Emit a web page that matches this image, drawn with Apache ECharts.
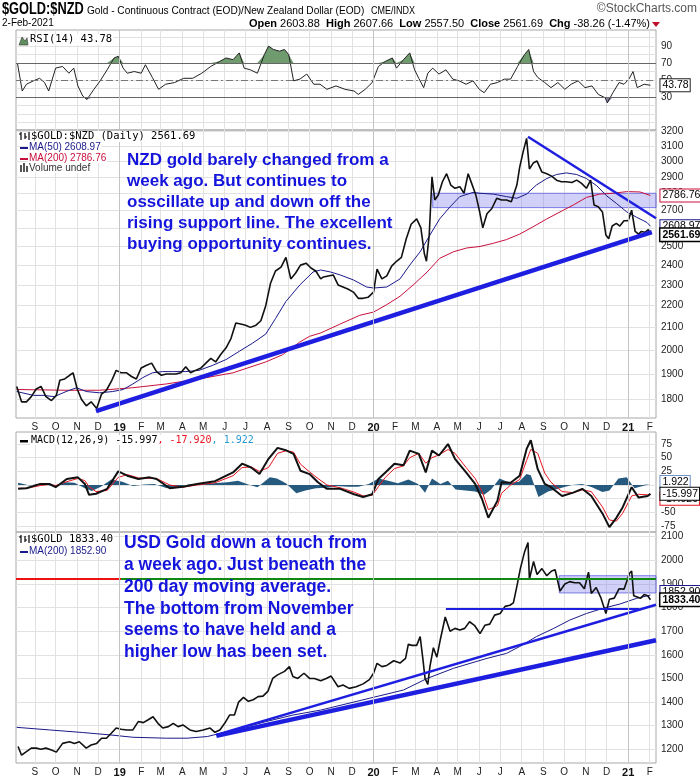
<!DOCTYPE html>
<html><head><meta charset="utf-8">
<script src="https://cdn.jsdelivr.net/npm/echarts@6/dist/echarts.min.js"></script>
<style>html,body{margin:0;padding:0;background:#fff}#c{width:700px;height:780px}</style>
</head><body><div id="c"></div>
<script>
// ---------- axis ticks / labels ----------
const monthStarts = ['2018-09-01','2018-10-01','2018-11-01','2018-12-01','2019-01-01','2019-02-01','2019-03-01','2019-04-01','2019-05-01','2019-06-01','2019-07-01','2019-08-01','2019-09-01','2019-10-01','2019-11-01','2019-12-01','2020-01-01','2020-02-01','2020-03-01','2020-04-01','2020-05-01','2020-06-01','2020-07-01','2020-08-01','2020-09-01','2020-10-01','2020-11-01','2020-12-01','2021-01-01','2021-02-01'];
const yearStarts = ['2019-01-01','2020-01-01','2021-01-01'];
const xRange = ['2018-08-05','2021-02-10'];
const rsiTicks = [0,10,20,30,40,50,60,70,80,90,100];
const rsiLabels = [30,50,70,90];
const rsiLevels = [70,50,30];
const nzdTicks = [1800,1900,2000,2100,2200,2300,2400,2500,2600,2700,2800,2900,3000,3100,3200];
const macdTicks = [-75,-50,-25,0,25,50,75];
const usdTicks = [1200,1300,1400,1500,1600,1700,1800,1900,2000,2100];

// ---------- NZD gold panel ----------
const nzdClose = [['2018-08-06',1850],['2018-08-13',1790],['2018-08-20',1790],['2018-08-27',1810],['2018-09-03',1840],['2018-09-10',1850],['2018-09-17',1810],['2018-09-25',1795],['2018-10-02',1815],['2018-10-07',1875],['2018-10-14',1880],['2018-10-21',1895],['2018-10-26',1905],['2018-11-01',1840],['2018-11-07',1800],['2018-11-14',1775],['2018-11-21',1790],['2018-11-29',1765],['2018-12-06',1820],['2018-12-13',1835],['2018-12-20',1870],['2018-12-27',1915],['2019-01-03',1905],['2019-01-11',1905],['2019-01-18',1890],['2019-01-25',1880],['2019-02-01',1925],['2019-02-08',1935],['2019-02-16',1945],['2019-02-23',1910],['2019-03-02',1895],['2019-03-09',1900],['2019-03-16',1900],['2019-03-23',1900],['2019-03-30',1905],['2019-04-06',1930],['2019-04-13',1905],['2019-04-20',1915],['2019-04-28',1925],['2019-05-05',1945],['2019-05-12',1965],['2019-05-19',1950],['2019-05-26',1980],['2019-06-03',2010],['2019-06-10',2050],['2019-06-17',2120],['2019-06-24',2115],['2019-07-01',2110],['2019-07-08',2100],['2019-07-16',2110],['2019-07-23',2130],['2019-07-30',2200],['2019-08-06',2310],['2019-08-13',2370],['2019-08-21',2390],['2019-08-28',2440],['2019-09-04',2330],['2019-09-11',2360],['2019-09-18',2400],['2019-09-26',2410],['2019-10-03',2385],['2019-10-10',2370],['2019-10-17',2330],['2019-10-21',2340],['2019-10-28',2345],['2019-11-04',2350],['2019-11-11',2300],['2019-11-18',2290],['2019-11-25',2280],['2019-12-03',2265],['2019-12-10',2235],['2019-12-17',2235],['2019-12-24',2240],['2020-01-01',2265],['2020-01-06',2380],['2020-01-13',2330],['2020-01-20',2345],['2020-01-27',2395],['2020-02-03',2420],['2020-02-10',2440],['2020-02-17',2540],['2020-02-24',2620],['2020-03-03',2650],['2020-03-09',2600],['2020-03-14',2460],['2020-03-17',2420],['2020-03-21',2560],['2020-03-25',2900],['2020-03-29',2760],['2020-04-03',2790],['2020-04-09',2870],['2020-04-15',2920],['2020-04-21',2850],['2020-04-27',2830],['2020-05-04',2840],['2020-05-10',2800],['2020-05-16',2920],['2020-05-21',2860],['2020-05-27',2790],['2020-06-01',2700],['2020-06-06',2600],['2020-06-12',2680],['2020-06-19',2710],['2020-06-26',2770],['2020-07-03',2760],['2020-07-10',2760],['2020-07-17',2750],['2020-07-25',2850],['2020-07-29',2960],['2020-08-03',3060],['2020-08-08',3150],['2020-08-12',2950],['2020-08-18',2990],['2020-08-23',3000],['2020-08-30',2930],['2020-09-06',2920],['2020-09-13',2905],['2020-09-20',2880],['2020-09-27',2870],['2020-10-04',2870],['2020-10-12',2865],['2020-10-19',2880],['2020-10-26',2860],['2020-11-02',2830],['2020-11-08',2880],['2020-11-13',2730],['2020-11-19',2720],['2020-11-25',2690],['2020-11-30',2560],['2020-12-04',2540],['2020-12-09',2610],['2020-12-15',2625],['2020-12-20',2610],['2020-12-26',2640],['2021-01-01',2640],['2021-01-06',2700],['2021-01-11',2580],['2021-01-16',2565],['2021-01-20',2580],['2021-01-25',2575],['2021-01-30',2590],['2021-02-02',2561.69]];
const nzdMA50 = [['2018-08-06',1830],['2018-08-30',1815],['2018-09-13',1815],['2018-09-29',1810],['2018-10-16',1830],['2018-10-31',1845],['2018-11-14',1830],['2018-12-03',1825],['2018-12-22',1830],['2019-01-06',1838],['2019-01-20',1860],['2019-02-03',1885],['2019-02-17',1905],['2019-03-04',1910],['2019-03-18',1910],['2019-04-06',1910],['2019-04-25',1915],['2019-05-14',1935],['2019-06-03',1960],['2019-06-22',1995],['2019-07-11',2030],['2019-07-30',2070],['2019-08-13',2140],['2019-08-28',2220],['2019-09-17',2300],['2019-10-06',2365],['2019-10-17',2375],['2019-10-31',2365],['2019-11-14',2350],['2019-12-03',2325],['2019-12-22',2290],['2020-01-01',2285],['2020-01-20',2290],['2020-02-08',2330],['2020-02-22',2400],['2020-03-08',2470],['2020-03-22',2560],['2020-04-05',2650],['2020-04-20',2720],['2020-05-04',2780],['2020-05-23',2805],['2020-06-02',2800],['2020-06-21',2795],['2020-07-10',2780],['2020-07-25',2770],['2020-08-08',2795],['2020-08-22',2850],['2020-09-06',2890],['2020-09-20',2915],['2020-10-04',2925],['2020-10-19',2915],['2020-11-02',2890],['2020-11-17',2845],['2020-12-01',2785],['2020-12-15',2740],['2020-12-30',2690],['2021-01-13',2660],['2021-01-28',2630],['2021-02-02',2608.97]];
const nzdMA200 = [['2018-08-06',1838],['2018-10-16',1835],['2018-12-03',1835],['2019-01-20',1845],['2019-03-09',1860],['2019-04-25',1880],['2019-06-13',1905],['2019-07-30',1950],['2019-08-23',1980],['2019-09-17',2035],['2019-10-01',2060],['2019-10-17',2075],['2019-11-14',2115],['2019-12-12',2155],['2020-01-01',2170],['2020-01-20',2205],['2020-02-08',2245],['2020-02-27',2300],['2020-03-18',2365],['2020-04-05',2435],['2020-04-25',2470],['2020-05-14',2490],['2020-06-02',2498],['2020-06-21',2515],['2020-07-10',2535],['2020-07-29',2565],['2020-08-17',2605],['2020-09-06',2650],['2020-09-25',2690],['2020-10-14',2730],['2020-11-02',2775],['2020-11-21',2795],['2020-12-10',2800],['2020-12-30',2810],['2021-01-18',2808],['2021-02-02',2786.76]];
const nzdSupport = [['2018-11-28',1755],['2021-02-04',2576]];
const nzdResistance = [['2020-08-10',3161],['2021-02-10',2654]];
const nzdBand = [['2020-03-26',2800],['2021-02-10',2715]];

// ---------- RSI(14) ----------
const rsi14 = [['2018-08-07',70],['2018-08-14',37],['2018-08-20',45],['2018-08-30',49],['2018-09-08',52],['2018-09-15',47],['2018-09-21',37],['2018-10-01',64],['2018-10-11',66],['2018-10-20',58],['2018-10-27',64],['2018-11-02',43],['2018-11-09',31],['2018-11-15',27],['2018-11-25',39],['2018-12-04',49],['2018-12-14',62],['2018-12-24',76],['2018-12-30',78],['2019-01-06',64],['2019-01-12',58],['2019-01-22',60],['2019-02-01',58],['2019-02-07',68],['2019-02-17',53],['2019-02-26',39],['2019-03-08',45],['2019-03-21',47],['2019-04-03',52],['2019-04-16',52],['2019-04-29',58],['2019-05-12',66],['2019-05-25',72],['2019-06-03',76],['2019-06-13',74],['2019-06-22',82],['2019-06-29',64],['2019-07-08',62],['2019-07-18',58],['2019-07-28',80],['2019-08-03',90],['2019-08-10',86],['2019-08-19',84],['2019-08-26',86],['2019-09-01',80],['2019-09-08',49],['2019-09-17',51],['2019-09-27',57],['2019-10-07',45],['2019-10-16',45],['2019-10-26',39],['2019-11-08',43],['2019-11-21',39],['2019-12-04',37],['2019-12-10',33],['2019-12-20',39],['2019-12-30',47],['2020-01-08',66],['2020-01-18',72],['2020-01-28',76],['2020-02-03',64],['2020-02-13',74],['2020-02-22',82],['2020-02-29',62],['2020-03-06',52],['2020-03-13',41],['2020-03-19',58],['2020-03-26',64],['2020-04-04',57],['2020-04-14',62],['2020-04-24',51],['2020-05-03',49],['2020-05-13',45],['2020-05-23',49],['2020-06-01',39],['2020-06-08',35],['2020-06-17',45],['2020-06-27',47],['2020-07-07',51],['2020-07-16',51],['2020-07-26',66],['2020-08-05',80],['2020-08-11',86],['2020-08-18',60],['2020-08-24',53],['2020-09-03',47],['2020-09-12',41],['2020-09-22',47],['2020-10-02',39],['2020-10-11',45],['2020-10-21',49],['2020-10-31',41],['2020-11-10',43],['2020-11-19',33],['2020-11-29',29],['2020-12-02',23],['2020-12-10',35],['2020-12-19',47],['2020-12-26',45],['2021-01-02',51],['2021-01-08',60],['2021-01-14',41],['2021-01-24',45],['2021-02-02',43.78]];

// ---------- MACD(12,26,9) ----------
const macdLine = [['2018-08-08',-7],['2018-08-20',-6],['2018-09-09',2],['2018-09-22',2],['2018-10-01',-4],['2018-10-17',11],['2018-11-02',14],['2018-11-12',2],['2018-11-18',-18],['2018-11-28',-16],['2018-12-14',-7],['2018-12-30',25],['2019-01-12',17],['2019-01-28',11],['2019-02-13',14],['2019-02-23',11],['2019-03-14',-6],['2019-04-02',-3],['2019-04-22',2],['2019-05-18',7],['2019-06-13',23],['2019-06-26',39],['2019-07-09',32],['2019-07-21',20],['2019-08-03',48],['2019-08-16',68],['2019-08-29',63],['2019-09-08',57],['2019-09-18',26],['2019-10-01',20],['2019-10-13',5],['2019-10-26',-7],['2019-11-14',-7],['2019-12-04',-17],['2019-12-17',-22],['2019-12-30',-17],['2020-01-08',11],['2020-01-18',23],['2020-01-31',39],['2020-02-13',36],['2020-02-22',63],['2020-03-06',57],['2020-03-16',23],['2020-03-25',63],['2020-04-04',54],['2020-04-17',75],['2020-04-27',48],['2020-05-13',23],['2020-05-26',2],['2020-06-05',-26],['2020-06-14',-60],['2020-06-27',-29],['2020-07-03',5],['2020-07-16',4],['2020-07-29',17],['2020-08-08',66],['2020-08-14',82],['2020-08-24',29],['2020-09-03',2],['2020-09-12',-4],['2020-09-28',-20],['2020-10-14',-14],['2020-10-27',-7],['2020-11-09',-20],['2020-11-25',-52],['2020-12-05',-77],['2020-12-15',-60],['2020-12-24',-41],['2021-01-06',-4],['2021-01-16',-23],['2021-01-29',-20],['2021-02-02',-15.997]];
const macdSignal = [['2018-08-08',-6],['2018-08-20',-6],['2018-09-09',-1],['2018-09-22',1],['2018-10-01',-1],['2018-10-17',6],['2018-11-02',12],['2018-11-12',8],['2018-11-18',-3],['2018-11-28',-12],['2018-12-14',-10],['2018-12-30',14],['2019-01-12',19],['2019-01-28',13],['2019-02-13',12],['2019-02-23',12],['2019-03-14',0],['2019-04-02',-4],['2019-04-22',0],['2019-05-18',4],['2019-06-13',17],['2019-06-26',32],['2019-07-09',33],['2019-07-21',25],['2019-08-03',32],['2019-08-16',58],['2019-08-29',63],['2019-09-08',60],['2019-09-18',38],['2019-10-01',24],['2019-10-13',12],['2019-10-26',0],['2019-11-14',-5],['2019-12-04',-13],['2019-12-17',-20],['2019-12-30',-19],['2020-01-08',-3],['2020-01-18',14],['2020-01-31',30],['2020-02-13',35],['2020-02-22',50],['2020-03-06',58],['2020-03-16',40],['2020-03-25',50],['2020-04-04',55],['2020-04-17',65],['2020-04-27',58],['2020-05-13',32],['2020-05-26',12],['2020-06-05',-12],['2020-06-14',-45],['2020-06-27',-38],['2020-07-03',-15],['2020-07-16',0],['2020-07-29',10],['2020-08-08',45],['2020-08-14',65],['2020-08-24',58],['2020-09-03',22],['2020-09-12',5],['2020-09-28',-12],['2020-10-14',-14],['2020-10-27',-9],['2020-11-09',-12],['2020-11-25',-40],['2020-12-05',-64],['2020-12-15',-66],['2020-12-24',-52],['2021-01-06',-20],['2021-01-16',-17],['2021-01-29',-18],['2021-02-02',-17.92]];
const macdHist = [['2018-08-08',4],['2018-08-25',-1],['2018-09-12',3],['2018-09-28',-3],['2018-10-15',5],['2018-10-28',4],['2018-11-12',-6],['2018-11-22',-11],['2018-12-05',-3],['2018-12-20',10],['2019-01-05',6],['2019-01-20',-2],['2019-02-05',1],['2019-02-20',2],['2019-03-10',-6],['2019-03-25',-4],['2019-04-10',1],['2019-04-28',2],['2019-05-15',3],['2019-06-05',5],['2019-06-20',8],['2019-07-05',1],['2019-07-18',-4],['2019-08-05',14],['2019-08-15',12],['2019-08-28',3],['2019-09-12',-15],['2019-09-25',-10],['2019-10-10',-6],['2019-10-25',-5],['2019-11-10',-2],['2019-11-25',-3],['2019-12-10',-3],['2019-12-25',2],['2020-01-08',12],['2020-01-22',8],['2020-02-05',3],['2020-02-20',10],['2020-03-05',2],['2020-03-15',-14],['2020-03-25',12],['2020-04-06',2],['2020-04-17',8],['2020-04-28',-8],['2020-05-12',-10],['2020-05-26',-12],['2020-06-08',-18],['2020-06-18',-8],['2020-06-30',12],['2020-07-15',4],['2020-07-28',6],['2020-08-08',20],['2020-08-14',18],['2020-08-25',-22],['2020-09-08',-12],['2020-09-25',-6],['2020-10-12',0],['2020-10-27',2],['2020-11-10',-4],['2020-11-25',-13],['2020-12-05',-10],['2020-12-18',12],['2020-12-30',14],['2021-01-10',-6],['2021-01-22',-2],['2021-02-02',1.922]];

// ---------- USD gold panel ----------
const usdClose = [['2018-08-08',1212],['2018-08-13',1175],['2018-08-20',1190],['2018-08-27',1205],['2018-09-03',1205],['2018-09-10',1200],['2018-09-17',1205],['2018-09-25',1197],['2018-10-02',1188],['2018-10-11',1225],['2018-10-21',1232],['2018-10-28',1225],['2018-11-04',1232],['2018-11-14',1205],['2018-11-21',1218],['2018-11-29',1225],['2018-12-06',1247],['2018-12-13',1247],['2018-12-20',1268],['2018-12-27',1290],['2019-01-03',1285],['2019-01-11',1282],['2019-01-20',1282],['2019-01-28',1318],['2019-02-04',1313],['2019-02-11',1325],['2019-02-18',1338],['2019-02-25',1310],['2019-03-04',1290],['2019-03-12',1296],['2019-03-19',1310],['2019-03-26',1296],['2019-04-02',1303],['2019-04-12',1282],['2019-04-21',1275],['2019-05-01',1282],['2019-05-11',1290],['2019-05-18',1272],['2019-05-25',1282],['2019-06-01',1310],['2019-06-08',1345],['2019-06-15',1345],['2019-06-21',1400],['2019-06-28',1420],['2019-07-05',1403],['2019-07-12',1410],['2019-07-19',1423],['2019-07-26',1425],['2019-08-02',1445],['2019-08-09',1500],['2019-08-16',1515],['2019-08-26',1530],['2019-09-02',1550],['2019-09-07',1508],['2019-09-14',1500],['2019-09-23',1522],['2019-10-01',1500],['2019-10-08',1500],['2019-10-17',1490],['2019-10-25',1500],['2019-11-01',1510],['2019-11-11',1465],['2019-11-18',1472],['2019-11-27',1458],['2019-12-07',1465],['2019-12-17',1477],['2019-12-26',1495],['2020-01-01',1522],['2020-01-06',1564],['2020-01-13',1550],['2020-01-20',1555],['2020-01-30',1575],['2020-02-08',1565],['2020-02-16',1585],['2020-02-20',1645],['2020-02-25',1640],['2020-03-03',1640],['2020-03-08',1677],['2020-03-12',1580],['2020-03-15',1500],['2020-03-19',1475],['2020-03-22',1550],['2020-03-27',1630],['2020-04-01',1590],['2020-04-06',1665],['2020-04-13',1760],['2020-04-20',1700],['2020-04-27',1712],['2020-05-04',1705],['2020-05-11',1712],['2020-05-18',1740],['2020-05-25',1725],['2020-06-02',1690],['2020-06-09',1725],['2020-06-16',1730],['2020-06-23',1768],['2020-07-01',1775],['2020-07-08',1805],['2020-07-15',1810],['2020-07-20',1820],['2020-07-25',1890],['2020-07-30',1965],['2020-08-05',2035],['2020-08-10',2075],['2020-08-12',1920],['2020-08-18',1995],['2020-08-23',1940],['2020-08-30',1965],['2020-09-06',1935],['2020-09-13',1955],['2020-09-18',1960],['2020-09-25',1870],['2020-10-02',1900],['2020-10-09',1910],['2020-10-16',1905],['2020-10-23',1905],['2020-10-30',1880],['2020-11-05',1950],['2020-11-09',1860],['2020-11-16',1885],['2020-11-23',1840],['2020-11-30',1775],['2020-12-05',1835],['2020-12-12',1840],['2020-12-19',1880],['2020-12-26',1878],['2021-01-03',1945],['2021-01-06',1955],['2021-01-09',1850],['2021-01-14',1845],['2021-01-19',1840],['2021-01-24',1855],['2021-01-29',1850],['2021-02-02',1833.40]];
const usdMA200 = [['2018-08-06',1293],['2018-09-22',1282],['2018-11-09',1271],['2018-12-18',1261],['2019-01-20',1251],['2019-03-09',1247],['2019-04-08',1247],['2019-05-07',1254],['2019-05-26',1268],['2019-06-24',1289],['2019-07-30',1317],['2019-09-07',1345],['2019-10-17',1366],['2019-12-26',1416],['2020-02-13',1451],['2020-03-18',1500],['2020-04-25',1543],['2020-06-12',1585],['2020-07-10',1606],['2020-07-29',1635],['2020-08-22',1677],['2020-09-16',1712],['2020-10-09',1747],['2020-11-02',1775],['2020-11-26',1797],['2020-12-20',1815],['2021-01-13',1839],['2021-02-02',1852.90]];
const usdLevelRed = [['2018-08-05',1920],['2019-01-03',1920]];
const usdLevelGreen = [['2019-01-03',1920],['2021-02-10',1920]];
const usdLevel1800 = [['2020-04-14',1797],['2021-01-17',1797]];
const usdRise1 = [['2019-05-20',1261],['2021-02-10',1812]];
const usdRise2 = [['2019-05-20',1257],['2021-02-10',1662]];
const usdBand = [['2020-09-24',1935],['2021-02-10',1862]];

// ---------- rendering ----------
const T = s => { const a = s.split('-').map(Number); return Date.UTC(a[0], a[1] - 1, a[2]); };
const P = arr => arr.map(p => [T(p[0]), p[1]]);
const FONT = '"Liberation Sans", Arial, sans-serif';
const MONO = '"DejaVu Sans Mono", monospace';
const GRID_C = '#e2e2e2';
const chart = echarts.init(document.getElementById('c'), null, {renderer: 'canvas'});

function monthFmt(v) {
  const d = new Date(v);
  const m = d.getUTCMonth();
  if (m === 0) return '{y|' + String(d.getUTCFullYear()).slice(2) + '}';
  return 'JFMAMJJASOND'[m];
}
function xAxisFor(i, show) {
  return {
    type: 'value', gridIndex: i, min: T(xRange[0]), max: T(xRange[1]),
    axisLine: {show: false},
    axisTick: {show: false, customValues: monthStarts.map(T)},
    splitLine: {show: true, lineStyle: {color: GRID_C, width: 1}},
    axisLabel: {show: show, customValues: monthStarts.map(T), formatter: monthFmt, color: '#222',
      fontSize: 10, fontFamily: FONT, margin: 4, align: 'center',
      rich: {y: {fontWeight: 'bold', fontSize: 11, fontFamily: FONT, color: '#111'}}}
  };
}
function yAxisFor(i, type, min, max, ticks, labels) {
  return {
    type: type, gridIndex: i, position: 'right', min: min, max: max,
    axisLine: {show: false},
    axisTick: {show: false, customValues: ticks},
    splitLine: {show: true, lineStyle: {color: GRID_C, width: 1}},
    axisLabel: {customValues: labels || ticks, formatter: v => String(Math.round(v)), color: '#222', fontSize: 10, fontFamily: FONT, margin: 5}
  };
}
function tag(border, bold, digits) {
  return {
    show: true, offset: [2, 0],
    formatter: p => Number(p.value[1]).toFixed(digits),
    color: '#000', fontFamily: FONT, fontSize: 10.5, fontWeight: bold ? 'bold' : 'normal',
    backgroundColor: '#fff', borderColor: border, borderWidth: bold ? 1.5 : 1, padding: [1, 1, 0, 2]
  };
}
function seg(pair, style) {
  return [{coord: [T(pair[0][0]), pair[0][1]], lineStyle: style}, {coord: [T(pair[1][0]), pair[1][1]], lineStyle: style}];
}
function band(pair) {
  return [[{coord: [T(pair[0][0]), pair[0][1]]}, {coord: [T(pair[1][0]), pair[1][1]]}]];
}
function barIcon(x, y) {
  // small OHLC-bar glyph used in the panel legends
  return [
    {type: 'line', z: 101, shape: {x1: x, y1: y, x2: x, y2: y + 8}, style: {stroke: '#000', lineWidth: 1.2}},
    {type: 'line', z: 101, shape: {x1: x - 2, y1: y + 2, x2: x, y2: y + 2}, style: {stroke: '#000', lineWidth: 1.2}},
    {type: 'line', z: 101, shape: {x1: x + 4, y1: y + 1, x2: x + 4, y2: y + 7}, style: {stroke: '#000', lineWidth: 1.2}},
    {type: 'line', z: 101, shape: {x1: x + 4, y1: y + 5, x2: x + 6, y2: y + 5}, style: {stroke: '#000', lineWidth: 1.2}},
    {type: 'line', z: 101, shape: {x1: x + 8, y1: y, x2: x + 8, y2: y + 8}, style: {stroke: '#000', lineWidth: 1.2}}
  ];
}
const yearLines = yearStarts.map(d => ({xAxis: T(d), lineStyle: {color: '#c4c4c4', width: 1, type: 'solid'}}));
const BLUE = '#1e1ee0';
const legendBg = {backgroundColor: '#fff', padding: [0, 1]};

const option = {
  animation: false,
  backgroundColor: '#fff',
  grid: [
    {left: 16, right: 44, top: 30, height: 100, show: true, borderColor: '#a8a8a8', borderWidth: 1},
    {left: 16, right: 44, top: 130, height: 288, show: true, borderColor: '#a8a8a8', borderWidth: 1},
    {left: 16, right: 44, top: 432, height: 100, show: true, borderColor: '#a8a8a8', borderWidth: 1},
    {left: 16, right: 44, top: 532, height: 231, show: true, borderColor: '#a8a8a8', borderWidth: 1}
  ],
  xAxis: [xAxisFor(0, false), xAxisFor(1, true), xAxisFor(2, false), xAxisFor(3, true)],
  yAxis: [
    yAxisFor(0, 'value', -9, 109, rsiTicks, rsiLabels),
    Object.assign(yAxisFor(1, 'log', 1729, 3207, nzdTicks), {logBase: 10}),
    yAxisFor(2, 'value', -86, 97, macdTicks),
    yAxisFor(3, 'value', 1142, 2120, usdTicks)
  ],
  series: [
    {type: 'line', xAxisIndex: 0, yAxisIndex: 0, data: P(rsi14).map(p => [p[0], Math.max(p[1], rsiLevels[0])]),
      showSymbol: false, lineStyle: {width: 0}, areaStyle: {origin: rsiLevels[0], color: '#6f9b6f', opacity: 1}, silent: true, z: 1},
    {type: 'line', xAxisIndex: 0, yAxisIndex: 0, data: P(rsi14).map(p => [p[0], Math.min(p[1], rsiLevels[2])]),
      showSymbol: false, lineStyle: {width: 0}, areaStyle: {origin: rsiLevels[2], color: '#8c7fa6', opacity: 1}, silent: true, z: 1},
    {type: 'line', name: 'RSI', xAxisIndex: 0, yAxisIndex: 0, data: P(rsi14), showSymbol: false,
      lineStyle: {color: '#222', width: 1}, z: 3, endLabel: tag('#222', false, 2),
      markLine: {silent: true, symbol: 'none', label: {show: false}, data: [
        {yAxis: rsiLevels[0], lineStyle: {color: '#666', width: 1.2, type: 'solid'}},
        {yAxis: rsiLevels[2], lineStyle: {color: '#666', width: 1.2, type: 'solid'}},
        {yAxis: rsiLevels[1], lineStyle: {color: '#777', width: 1, type: [7, 3, 2, 3]}}
      ].concat(yearLines)}},
    {type: 'line', name: 'MA200', xAxisIndex: 1, yAxisIndex: 1, data: P(nzdMA200), showSymbol: false,
      lineStyle: {color: '#c8103c', width: 1}, z: 3, endLabel: tag('#c8103c', false, 2)},
    {type: 'line', name: 'MA50', xAxisIndex: 1, yAxisIndex: 1, data: P(nzdMA50), showSymbol: false,
      lineStyle: {color: '#1a1a8a', width: 1}, z: 3, endLabel: tag('#1a1a8a', false, 2)},
    {type: 'line', name: 'NZD', xAxisIndex: 1, yAxisIndex: 1, data: P(nzdClose), showSymbol: false,
      lineStyle: {color: '#111', width: 1.6}, z: 4, endLabel: tag('#000', true, 2),
      markArea: {silent: true, itemStyle: {color: 'rgba(110,110,235,0.32)', borderColor: 'rgba(90,90,225,0.75)', borderWidth: 1},
        data: band(nzdBand)},
      markLine: {silent: true, symbol: 'none', label: {show: false}, data: [
        seg(nzdSupport, {color: BLUE, width: 4.5, type: 'solid'}),
        seg(nzdResistance, {color: BLUE, width: 2.5, type: 'solid'})
      ].concat(yearLines)}},
    {type: 'line', name: 'Hist', xAxisIndex: 2, yAxisIndex: 2, data: P(macdHist), showSymbol: false,
      lineStyle: {width: 0}, areaStyle: {origin: 0, color: '#255a7e', opacity: 1}, z: 2,
      endLabel: Object.assign(tag('#6d8fc9', false, 3), {offset: [2, -2]}),
      markLine: {silent: true, symbol: 'none', label: {show: false}, data: yearLines}},
    {type: 'line', name: 'Signal', xAxisIndex: 2, yAxisIndex: 2, data: P(macdSignal), showSymbol: false,
      lineStyle: {color: '#e8141e', width: 1}, z: 3, endLabel: Object.assign(tag('#e8141e', false, 3), {offset: [2, 4]})},
    {type: 'line', name: 'MACD', xAxisIndex: 2, yAxisIndex: 2, data: P(macdLine), showSymbol: false,
      lineStyle: {color: '#111', width: 2}, z: 4, endLabel: tag('#000', false, 3)},
    {type: 'line', name: 'USDMA200', xAxisIndex: 3, yAxisIndex: 3, data: P(usdMA200), showSymbol: false,
      lineStyle: {color: '#1a1a8a', width: 1}, z: 3, endLabel: Object.assign(tag('#1a1a8a', false, 2), {offset: [2, -3]})},
    {type: 'line', name: 'USD', xAxisIndex: 3, yAxisIndex: 3, data: P(usdClose), showSymbol: false,
      lineStyle: {color: '#111', width: 1.6}, z: 4, endLabel: tag('#000', true, 2),
      markArea: {silent: true, itemStyle: {color: 'rgba(110,110,235,0.32)', borderColor: 'rgba(90,90,225,0.75)', borderWidth: 1},
        data: band(usdBand)},
      markLine: {silent: true, symbol: 'none', label: {show: false}, data: [
        seg(usdLevelRed, {color: '#ee1111', width: 2, type: 'solid'}),
        seg(usdLevelGreen, {color: '#118811', width: 2, type: 'solid'}),
        seg(usdLevel1800, {color: BLUE, width: 2.2, type: 'solid'}),
        seg(usdRise1, {color: BLUE, width: 2.5, type: 'solid'}),
        seg(usdRise2, {color: BLUE, width: 4.5, type: 'solid'})
      ].concat(yearLines)}}
  ],
  graphic: [
    {type: 'text', x: 2, y: 2, scaleX: 0.8, style: {text: '$GOLD:$NZD', font: 'bold 16px ' + FONT, fill: '#000'}},
    {type: 'text', x: 87, y: 5, scaleX: 0.92, style: {text: 'Gold - Continuous Contract (EOD)/New Zealand Dollar (EOD)', font: '11px ' + FONT, fill: '#000'}},
    {type: 'text', x: 371, y: 6, scaleX: 0.9, style: {text: 'CME/INDX', font: '10px ' + FONT, fill: '#000'}},
    {type: 'text', x: 697, y: 3, style: {text: '\u00a9StockCharts.com', font: '12px ' + FONT, fill: '#555', align: 'right'}},
    {type: 'text', x: 2, y: 18, style: {text: '2-Feb-2021', font: '10px ' + FONT, fill: '#000'}},
    {type: 'text', x: 650, y: 18, style: {
      text: '{b|Open} 2603.88  {b|High} 2607.66  {b|Low} 2557.50  {b|Close} 2561.69  {b|Chg} -38.26 (-1.47%)',
      font: '11px ' + FONT, fill: '#000', align: 'right', rich: {b: {fontWeight: 'bold', fontSize: 11, fontFamily: FONT}}}},
    {type: 'polygon', shape: {points: [[652, 22], [660, 22], [656, 27]]}, style: {fill: '#c0102a'}},
    {type: 'polygon', z: 101, shape: {points: [[19, 45], [22, 37], [25, 41], [27, 38], [28, 45]]}, style: {fill: '#5f8f5f', stroke: '#333', lineWidth: 0.6}},
    {type: 'text', x: 29, y: 34, z: 100, style: Object.assign({text: 'RSI(14) 43.78', font: '10.5px ' + MONO, fill: '#000'}, legendBg)},
    {type: 'text', x: 30, y: 131, z: 100, style: Object.assign({text: '$GOLD:$NZD (Daily) 2561.69', font: '10.5px ' + MONO, fill: '#000'}, legendBg)},
    {type: 'text', x: 28, y: 142, z: 100, style: Object.assign({text: 'MA(50) 2608.97', font: '10px ' + FONT, fill: '#1a1a8a'}, legendBg)},
    {type: 'text', x: 28, y: 153, z: 100, style: Object.assign({text: 'MA(200) 2786.76', font: '10px ' + FONT, fill: '#c8103c'}, legendBg)},
    {type: 'text', x: 28, y: 163, z: 100, style: Object.assign({text: 'Volume undef', font: '10px ' + FONT, fill: '#333'}, legendBg)},
    {type: 'rect', z: 101, shape: {x: 20, y: 147, width: 8, height: 2}, style: {fill: '#1a1a8a'}},
    {type: 'rect', z: 101, shape: {x: 20, y: 158, width: 8, height: 2}, style: {fill: '#c8103c'}},
    {type: 'rect', z: 101, shape: {x: 20, y: 165, width: 2, height: 7}, style: {fill: '#555'}},
    {type: 'rect', z: 101, shape: {x: 23, y: 163, width: 2, height: 9}, style: {fill: '#555'}},
    {type: 'rect', z: 101, shape: {x: 26, y: 166, width: 2, height: 6}, style: {fill: '#555'}},
    {type: 'text', x: 30, y: 435, z: 100, style: Object.assign({
      text: 'MACD(12,26,9) -15.997{r|, -17.920}{c|, 1.922}', font: '10px ' + MONO, fill: '#000',
      rich: {r: {fill: '#e8141e', fontSize: 10, fontFamily: MONO}, c: {fill: '#2a9ad6', fontSize: 10, fontFamily: MONO}}}, legendBg)},
    {type: 'rect', z: 101, shape: {x: 20, y: 440, width: 8, height: 2.5}, style: {fill: '#000'}},
    {type: 'text', x: 30, y: 534, z: 100, style: Object.assign({text: '$GOLD 1833.40', font: '10.5px ' + MONO, fill: '#000'}, legendBg)},
    {type: 'text', x: 28, y: 546, z: 100, style: Object.assign({text: 'MA(200) 1852.90', font: '10px ' + FONT, fill: '#1a1a8a'}, legendBg)},
    {type: 'rect', z: 101, shape: {x: 20, y: 551, width: 8, height: 2}, style: {fill: '#1a1a8a'}},
    {type: 'text', x: 127, y: 149.5, z: 100, style: {
      text: 'NZD gold barely changed from a\nweek ago. But continues to\nosscillate up and down off the\nrising support line. The excellent\nbuying opportunity continues.',
      font: 'bold 17px ' + FONT, fill: '#1414dc', lineHeight: 21}},
    {type: 'text', x: 124, y: 532.5, z: 100, style: {
      text: 'USD Gold down a touch from\na week ago. Just beneath the\n200 day moving average.\nThe bottom from November\nseems to have held and a\nhigher low has been set.',
      font: 'bold 17.5px ' + FONT, fill: '#1414dc', lineHeight: 21.8}}
  ].concat(barIcon(21, 132), barIcon(21, 535))
};
chart.setOption(option);
</script>
</body></html>
